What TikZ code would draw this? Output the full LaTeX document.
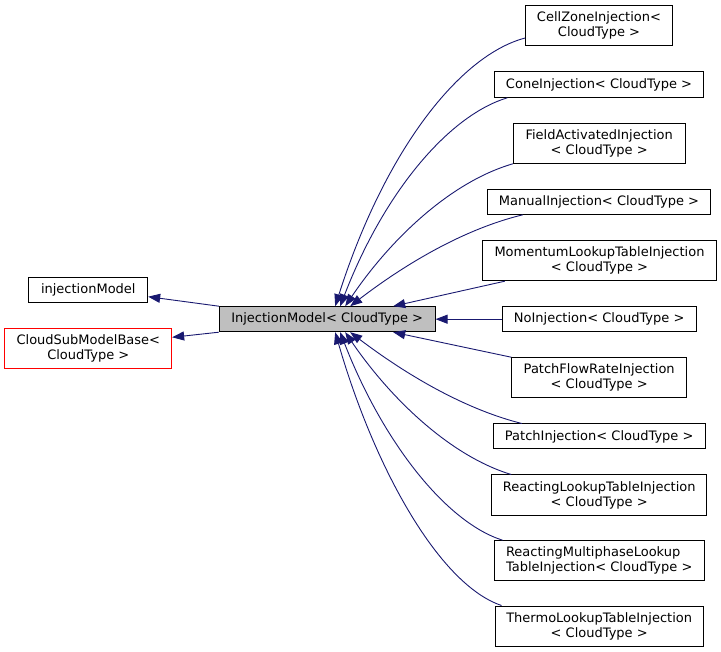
\documentclass[tikz,border=0pt]{standalone}
\usepackage{fontspec}
\setmainfont{DejaVu Sans}
\usetikzlibrary{arrows.meta}
\definecolor{edgeblue}{HTML}{191970}
\definecolor{basegray}{HTML}{BFBFBF}

\tikzset{
  cls/.style={draw=black, line width=1pt, inner sep=0pt, align=center,
    font=\fontsize{13}{15}\selectfont},
  edge/.style={draw=edgeblue, line width=0.9pt,
    -{Triangle[length=12pt,width=9pt]}},
}

\begin{document}
\begin{tikzpicture}[x=1pt,y=-1pt]
  \useasboundingbox (0,0) rectangle (721,652);
  % base and derived classes
  \node[cls, fill=basegray, minimum width=215.7, minimum height=25] (main) at (327.2,319.2) {InjectionModel< CloudType >};
  \node[cls, minimum width=118.7, minimum height=25.4] (injmodel) at (88.3,290) {injectionModel};
  \node[cls, draw=red, minimum width=166.7, minimum height=40] (cloudsub) at (88.3,348.3) {CloudSubModelBase<\\ CloudType >};
  \node[cls, minimum width=146.6, minimum height=40] (cellzone) at (599,25.7) {CellZoneInjection<\\ CloudType >};
  \node[cls, minimum width=208.3, minimum height=25.6] (cone) at (599,84.5) {ConeInjection< CloudType >};
  \node[cls, minimum width=171.7, minimum height=40] (fieldact) at (599.2,143.3) {FieldActivatedInjection\\ < CloudType >};
  \node[cls, minimum width=223.4, minimum height=25] (manual) at (599,201.8) {ManualInjection< CloudType >};
  \node[cls, minimum width=234.4, minimum height=40] (momentum) at (599.5,260.7) {MomentumLookupTableInjection\\ < CloudType >};
  \node[cls, minimum width=193.7, minimum height=25] (noinj) at (599.2,319.2) {NoInjection< CloudType >};
  \node[cls, minimum width=175, minimum height=40] (patchflow) at (599.2,377.7) {PatchFlowRateInjection\\ < CloudType >};
  \node[cls, minimum width=211.7, minimum height=25] (patchinj) at (599.2,436.5) {PatchInjection< CloudType >};
  \node[cls, minimum width=215, minimum height=40] (reactlookup) at (599.2,495) {ReactingLookupTableInjection\\ < CloudType >};
  \node[cls, align=left, minimum width=210.3, minimum height=40] (reactmulti) at (599.2,560.7) {ReactingMultiphaseLookup\\TableInjection< CloudType >};
  \node[cls, minimum width=208.3, minimum height=40] (thermo) at (599.2,626) {ThermoLookupTableInjection\\ < CloudType >};

  % inheritance
  \draw[edge] (main.north west) -- ([yshift=-6.7]injmodel.east);
  \draw[edge] (main.south west) -- ([yshift=11]cloudsub.east);
  \draw[edge] ([yshift=-12.3]cellzone.west) .. controls (460,55) and (385,150) .. ([xshift=8]main.north);
  \draw[edge] ([xshift=13]cone.south west) .. controls (450,115) and (385,190) .. ([xshift=13]main.north);
  \draw[edge] (fieldact.south west) .. controls (450,182) and (390,240) .. ([xshift=18]main.north);
  \draw[edge] ([xshift=36]manual.south west) .. controls (460,230) and (400,268) .. ([xshift=23]main.north);
  \draw[edge] ([xshift=23]momentum.south west) -- ([xshift=66]main.north);
  \draw[edge] (noinj.west) -- (main.east);
  \draw[edge] (patchflow.north west) -- ([xshift=66]main.south);
  \draw[edge] ([xshift=29]patchinj.north west) .. controls (460,408) and (400,370) .. ([xshift=23]main.south);
  \draw[edge] ([xshift=20]reactlookup.north west) .. controls (450,456) and (390,398) .. ([xshift=18]main.south);
  \draw[edge] ([xshift=9]reactmulti.north west) .. controls (445,522) and (382,440) .. ([xshift=13]main.south);
  \draw[edge] ([xshift=7]thermo.north west) .. controls (440,585) and (375,470) .. ([xshift=8]main.south);
\end{tikzpicture}
\end{document}
